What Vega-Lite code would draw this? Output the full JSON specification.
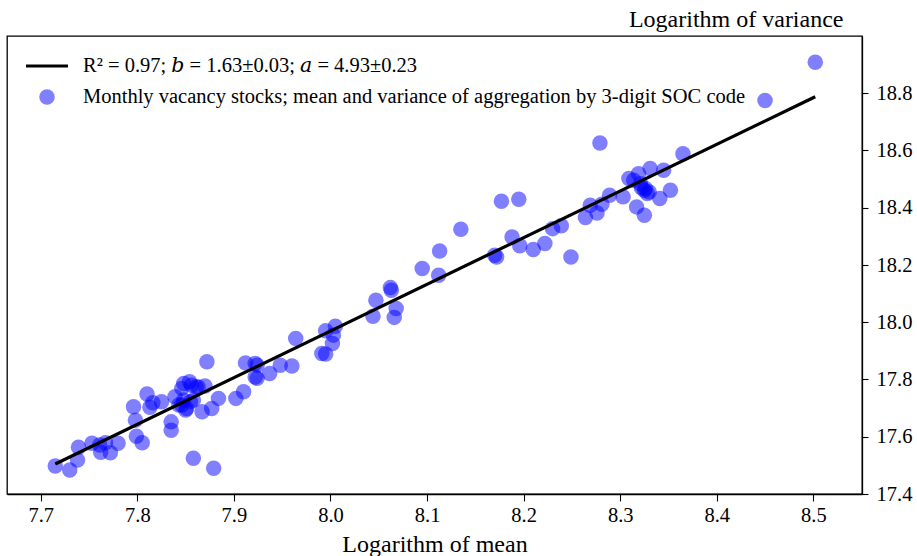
{
  "$schema": "https://vega.github.io/schema/vega-lite/v6.json",
  "width": 855,
  "height": 458,
  "autosize": {"type": "none"},
  "padding": {"left": 7, "top": 36, "right": 55, "bottom": 62},
  "config": {
    "view": {"stroke": "black", "strokeWidth": 1.3},
    "font": "Liberation Serif",
    "axis": {
      "grid": false,
      "domainColor": "black",
      "domainWidth": 1.3,
      "tickColor": "black",
      "tickWidth": 1.1,
      "labelColor": "black",
      "titleColor": "black",
      "labelFont": "Liberation Serif",
      "titleFont": "Liberation Serif",
      "labelFontSize": 20.5,
      "titleFontSize": 24,
      "titleFontWeight": "normal"
    },
    "legend": {
      "labelFont": "Liberation Serif, DejaVu Serif",
      "labelFontSize": 20.5,
      "labelColor": "black",
      "labelLimit": 0
    }
  },
  "layer": [
    {
      "data": {"values": [
        {"x": 7.715, "y": 17.498}, {"x": 7.730, "y": 17.484}, {"x": 7.738, "y": 17.519}, {"x": 7.739, "y": 17.563},
        {"x": 7.753, "y": 17.577}, {"x": 7.761, "y": 17.571}, {"x": 7.767, "y": 17.579}, {"x": 7.762, "y": 17.546},
        {"x": 7.772, "y": 17.544}, {"x": 7.780, "y": 17.577}, {"x": 7.796, "y": 17.705}, {"x": 7.798, "y": 17.658},
        {"x": 7.799, "y": 17.602}, {"x": 7.805, "y": 17.579}, {"x": 7.810, "y": 17.749}, {"x": 7.813, "y": 17.703},
        {"x": 7.816, "y": 17.719}, {"x": 7.825, "y": 17.722}, {"x": 7.835, "y": 17.652}, {"x": 7.835, "y": 17.623},
        {"x": 7.839, "y": 17.740}, {"x": 7.846, "y": 17.769}, {"x": 7.854, "y": 17.792}, {"x": 7.848, "y": 17.728},
        {"x": 7.843, "y": 17.711}, {"x": 7.851, "y": 17.699}, {"x": 7.858, "y": 17.728}, {"x": 7.863, "y": 17.774},
        {"x": 7.870, "y": 17.777}, {"x": 7.867, "y": 17.687}, {"x": 7.877, "y": 17.699}, {"x": 7.884, "y": 17.734},
        {"x": 7.858, "y": 17.525}, {"x": 7.879, "y": 17.490}, {"x": 7.872, "y": 17.862}, {"x": 7.902, "y": 17.734},
        {"x": 7.910, "y": 17.757}, {"x": 7.912, "y": 17.858}, {"x": 7.922, "y": 17.856}, {"x": 7.924, "y": 17.850},
        {"x": 7.922, "y": 17.809}, {"x": 7.924, "y": 17.804}, {"x": 7.937, "y": 17.821}, {"x": 7.948, "y": 17.850},
        {"x": 7.960, "y": 17.847}, {"x": 7.964, "y": 17.943}, {"x": 7.991, "y": 17.891}, {"x": 7.995, "y": 17.889},
        {"x": 7.995, "y": 17.970}, {"x": 8.005, "y": 17.986}, {"x": 8.003, "y": 17.955}, {"x": 8.002, "y": 17.926},
        {"x": 8.047, "y": 18.077}, {"x": 8.044, "y": 18.021}, {"x": 8.062, "y": 18.121}, {"x": 8.063, "y": 18.112},
        {"x": 8.068, "y": 18.048}, {"x": 8.066, "y": 18.017}, {"x": 8.095, "y": 18.188}, {"x": 8.112, "y": 18.164},
        {"x": 8.113, "y": 18.249}, {"x": 8.135, "y": 18.325}, {"x": 8.170, "y": 18.234}, {"x": 8.172, "y": 18.228},
        {"x": 8.177, "y": 18.423}, {"x": 8.195, "y": 18.430}, {"x": 8.188, "y": 18.298}, {"x": 8.196, "y": 18.267},
        {"x": 8.210, "y": 18.254}, {"x": 8.222, "y": 18.275}, {"x": 8.230, "y": 18.327}, {"x": 8.239, "y": 18.337},
        {"x": 8.249, "y": 18.228}, {"x": 8.264, "y": 18.366}, {"x": 8.269, "y": 18.409}, {"x": 8.276, "y": 18.382},
        {"x": 8.281, "y": 18.412}, {"x": 8.289, "y": 18.444}, {"x": 8.303, "y": 18.438}, {"x": 8.279, "y": 18.626},
        {"x": 8.309, "y": 18.502}, {"x": 8.314, "y": 18.496}, {"x": 8.319, "y": 18.519}, {"x": 8.321, "y": 18.484},
        {"x": 8.326, "y": 18.467}, {"x": 8.330, "y": 18.455}, {"x": 8.325, "y": 18.461}, {"x": 8.331, "y": 18.537},
        {"x": 8.345, "y": 18.531}, {"x": 8.317, "y": 18.403}, {"x": 8.325, "y": 18.374}, {"x": 8.341, "y": 18.432},
        {"x": 8.352, "y": 18.461}, {"x": 8.365, "y": 18.589}, {"x": 8.502, "y": 18.908}, {"x": 8.450, "y": 18.775},
        {"x": 7.848, "y": 17.786}, {"x": 7.856, "y": 17.780}, {"x": 7.861, "y": 17.774}, {"x": 7.855, "y": 17.722},
        {"x": 7.846, "y": 17.711}, {"x": 7.850, "y": 17.693}, {"x": 8.328, "y": 18.450}, {"x": 8.322, "y": 18.470}
      ]},
      "mark": {"type": "circle", "size": 240, "opacity": 0.5},
      "encoding": {
        "x": {
          "field": "x", "type": "quantitative",
          "scale": {"domain": [7.665, 8.5504], "nice": false, "zero": false},
          "axis": {
            "title": "Logarithm of mean",
            "orient": "bottom",
            "values": [7.7, 7.8, 7.9, 8.0, 8.1, 8.2, 8.3, 8.4, 8.5],
            "format": ".1f",
            "tickSize": 7,
            "labelPadding": 4,
            "titlePadding": 7
          }
        },
        "y": {
          "field": "y", "type": "quantitative",
          "scale": {"domain": [17.4, 19.0], "nice": false, "zero": false},
          "axis": {
            "orient": "right",
            "title": "Logarithm of variance",
            "values": [17.4, 17.45, 17.5, 17.55, 17.6, 17.65, 17.7, 17.75, 17.8, 17.85, 17.9, 17.95, 18.0, 18.05, 18.1, 18.15, 18.2, 18.25, 18.3, 18.35, 18.4, 18.45, 18.5, 18.55, 18.6, 18.65, 18.7, 18.75, 18.8, 18.85, 18.9, 18.95],
            "labelExpr": "abs(datum.value*5 - round(datum.value*5)) < 0.01 ? format(datum.value, '.1f') : ''",
            "tickSize": {"condition": {"test": "abs(datum.value*5 - round(datum.value*5)) < 0.01", "value": 6}, "value": 3.5},
            "labelPadding": 8,
            "labelOverlap": false,
            "titleAngle": 0,
            "titleAlign": "right",
            "titleBaseline": "alphabetic",
            "titleX": -19,
            "titleY": -10
          }
        },
        "fill": {
          "datum": "Monthly vacancy stocks; mean and variance of aggregation by 3-digit SOC code",
          "scale": {"range": ["blue"]},
          "legend": {
            "orient": "none",
            "legendX": 17.5,
            "legendY": 50.75,
            "title": null,
            "symbolType": "circle",
            "symbolSize": 240,
            "symbolFillColor": "blue",
            "symbolOpacity": 0.5,
            "symbolStrokeWidth": 0,
            "symbolOffset": 12.25,
            "labelOffset": 25.75
          }
        }
      }
    },
    {
      "data": {"values": [
        {"x": 7.715, "y": 17.505},
        {"x": 8.502, "y": 18.788}
      ]},
      "mark": {"type": "line", "strokeWidth": 3.2},
      "encoding": {
        "x": {"field": "x", "type": "quantitative"},
        "y": {"field": "y", "type": "quantitative"},
        "stroke": {
          "datum": "R² = 0.97; 𝑏 = 1.63±0.03; 𝑎 = 4.93±0.23",
          "scale": {"range": ["black"]},
          "legend": {
            "orient": "none",
            "legendX": 17.5,
            "legendY": 7.5,
            "title": null,
            "symbolType": "stroke",
            "symbolSize": 1764,
            "symbolStrokeWidth": 3,
            "symbolStrokeColor": "black",
            "labelOffset": 13.5
          }
        }
      }
    }
  ]
}
